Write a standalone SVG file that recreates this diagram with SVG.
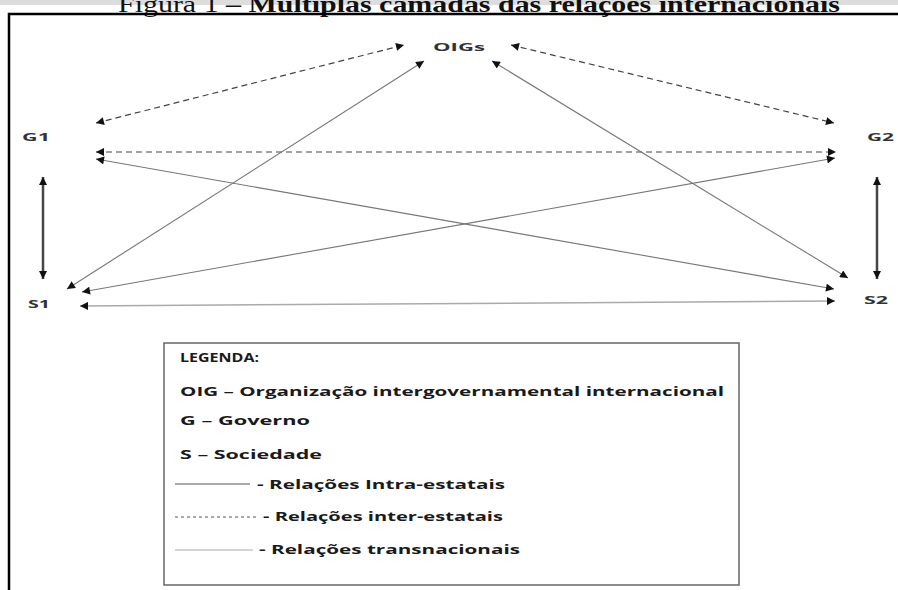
<svg xmlns="http://www.w3.org/2000/svg" width="898" height="590" viewBox="0 0 898 590">
<defs>
<style>
.title{font-family:"Liberation Serif","Times New Roman",serif;font-size:24px;fill:#111}
.node{font-family:"Open Sans","Liberation Sans",sans-serif;font-weight:bold;font-size:11px;fill:#333}
.leg{font-family:"Open Sans","Liberation Sans",sans-serif;font-weight:bold;font-size:13px;fill:#1a1a1a}
.dash{stroke:#444;stroke-width:1.2;stroke-dasharray:6 4;fill:none}
.trans{stroke:#777;stroke-width:1.1;fill:none}
.transl{stroke:#aaa;stroke-width:1.5;fill:none}
.intra{stroke:#444;stroke-width:2.5;fill:none}
</style>
<marker id="ah" viewBox="0 0 10 10" refX="10" refY="5" markerWidth="10" markerHeight="8" markerUnits="userSpaceOnUse" orient="auto-start-reverse">
<path d="M0,0 L10,5 L0,10 z" fill="#111"/>
</marker>
</defs>
<rect x="0" y="0" width="898" height="590" fill="#fff"/>
<rect x="0" y="0" width="898" height="5" fill="#ddd"/>
<text class="title" x="118" y="12" textLength="722" lengthAdjust="spacingAndGlyphs">Figura 1 <tspan font-weight="bold">– Múltiplas camadas das relações internacionais</tspan></text>
<path d="M9,590 V14 H898" stroke="#000" stroke-width="2.5" fill="none"/>

<g id="OIGs"><text class="node" x="433" y="51" textLength="52" lengthAdjust="spacingAndGlyphs">OIGs</text></g>
<g id="G1"><text class="node" x="22" y="141" textLength="28" lengthAdjust="spacingAndGlyphs">G1</text></g>
<g id="G2"><text class="node" x="867" y="141" textLength="27" lengthAdjust="spacingAndGlyphs">G2</text></g>
<g id="S1"><text class="node" x="28" y="308" textLength="22" lengthAdjust="spacingAndGlyphs">S1</text></g>
<g id="S2"><text class="node" x="864" y="304" textLength="24" lengthAdjust="spacingAndGlyphs">S2</text></g>

<g id="connectors">
<line class="dash" x1="96" y1="123" x2="404" y2="45" marker-start="url(#ah)" marker-end="url(#ah)"/>
<line class="dash" x1="511" y1="45" x2="834" y2="123" marker-start="url(#ah)" marker-end="url(#ah)"/>
<line class="dash" x1="96" y1="152" x2="836" y2="152" marker-start="url(#ah)" marker-end="url(#ah)"/>
<line class="trans" x1="96" y1="159" x2="834" y2="289" marker-start="url(#ah)" marker-end="url(#ah)"/>
<line class="trans" x1="67" y1="289" x2="424" y2="61" marker-start="url(#ah)" marker-end="url(#ah)"/>
<line class="trans" x1="82" y1="292" x2="835" y2="158" marker-start="url(#ah)" marker-end="url(#ah)"/>
<line class="trans" x1="492" y1="61" x2="848" y2="278" marker-start="url(#ah)" marker-end="url(#ah)"/>
<line class="transl" x1="80" y1="306" x2="835" y2="301" marker-start="url(#ah)" marker-end="url(#ah)"/>
<line class="intra" x1="43" y1="177" x2="43" y2="279" marker-start="url(#ah)" marker-end="url(#ah)"/>
<line class="intra" x1="877" y1="177" x2="877" y2="279" marker-start="url(#ah)" marker-end="url(#ah)"/>
</g>

<g id="legend">
<rect x="164" y="343" width="575" height="242" fill="#fff" stroke="#666" stroke-width="1.5"/>
<text class="leg" x="180" y="362" textLength="79" lengthAdjust="spacingAndGlyphs">LEGENDA:</text>
<text class="leg" x="180" y="396" textLength="544" lengthAdjust="spacingAndGlyphs">OIG – Organização intergovernamental internacional</text>
<text class="leg" x="180" y="425" textLength="130" lengthAdjust="spacingAndGlyphs">G – Governo</text>
<text class="leg" x="180" y="459" textLength="142" lengthAdjust="spacingAndGlyphs">S – Sociedade</text>
<line x1="175" y1="484" x2="250" y2="484" stroke="#555" stroke-width="1"/>
<text class="leg" x="257" y="489" textLength="248" lengthAdjust="spacingAndGlyphs">- Relações Intra-estatais</text>
<line x1="175" y1="517" x2="256" y2="517" stroke="#555" stroke-width="1" stroke-dasharray="3 3"/>
<text class="leg" x="263" y="521" textLength="240" lengthAdjust="spacingAndGlyphs">- Relações inter-estatais</text>
<line x1="175" y1="550" x2="253" y2="550" stroke="#aaa" stroke-width="1"/>
<text class="leg" x="259" y="554" textLength="261" lengthAdjust="spacingAndGlyphs">- Relações transnacionais</text>
</g>
</svg>
